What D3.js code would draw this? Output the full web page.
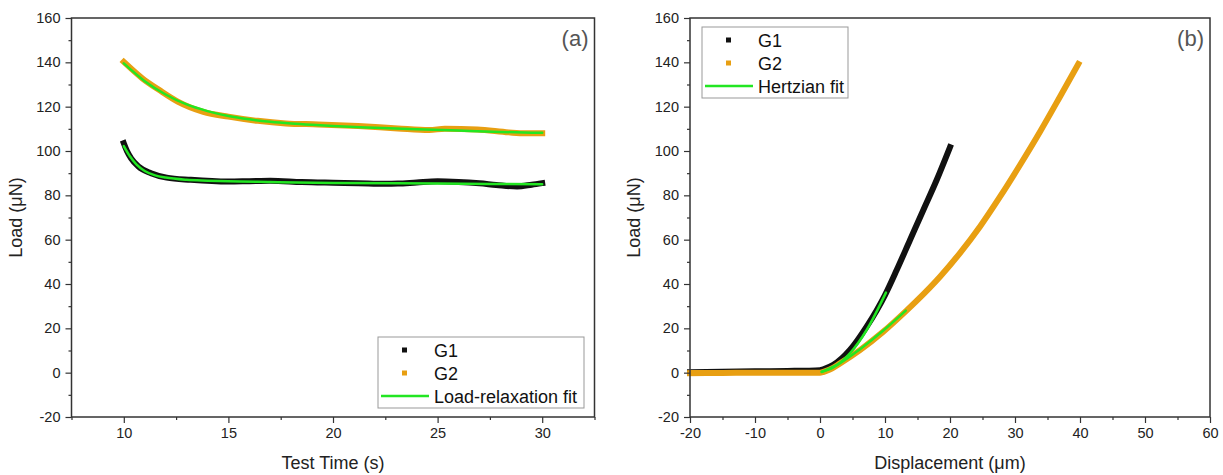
<!DOCTYPE html>
<html>
<head>
<meta charset="utf-8">
<script src="https://cdn.jsdelivr.net/npm/d3@7"></script>
<style>
  body { margin: 0; background: #fff; }
  text { font-family: "Liberation Sans", Arial, sans-serif; }
</style>
</head>
<body>
<svg id="chart" width="1223" height="475"></svg>
<script>
// ---- shared load axis ----
const loadDomain = [-20, 160];
const loadMajor = [-20, 0, 20, 40, 60, 80, 100, 120, 140, 160];
const loadMinor = [-10, 10, 30, 50, 70, 90, 110, 130, 150];

// ---- (a) load relaxation ----
const timeDomain = [7.5, 32.5];
const timeMajor = [10, 15, 20, 25, 30];
const timeMinor = [7.5, 12.5, 17.5, 22.5, 27.5, 32.5];

const g1RelaxTime = [10, 10.15, 10.35, 10.7, 11.3, 12.05, 13.2, 15, 16, 17, 18.5, 20, 21.2, 22.5, 23.1, 24, 25, 26, 27, 27.8, 28.8, 29.5, 30];
const g1RelaxLoad = [103.5, 100, 96.7, 93, 90, 88, 87, 86.2, 86.4, 86.6, 86, 85.7, 85.5, 85.2, 85.3, 85.8, 86.3, 86, 85.4, 84.7, 84, 84.8, 85.5];
const g2RelaxTime = [10, 10.9, 11.7, 12.6, 13.8, 15, 16.4, 17.75, 19.3, 21.2, 23.1, 24.6, 25.35, 26.9, 28.4, 29.2, 30];
const g2RelaxLoad = [140.2, 132.7, 127.5, 122.2, 117.7, 115.5, 113.6, 112.45, 112, 111.25, 110.2, 109.5, 110, 109.7, 108.4, 108, 108];

const g1RelaxFitTime = [10, 10.3, 10.6, 11, 11.5, 12, 13, 14, 15, 17, 20, 25, 30];
const g1RelaxFitLoad = [102.2, 97.5, 94, 91, 89, 88, 87, 86.6, 86.3, 86, 85.6, 85.3, 85];
const g2RelaxFitTime = [10, 11, 12, 13, 14, 15, 16, 17, 18, 19, 20, 22, 24, 26, 28, 30];
const g2RelaxFitLoad = [139.5, 131.5, 125.5, 121, 118, 115.8, 114.3, 113.2, 112.4, 111.8, 111.3, 110.5, 109.8, 109.2, 108.6, 108.2];

// ---- (b) load vs displacement ----
const dispDomain = [-20, 60];
const dispMajor = [-20, -10, 0, 10, 20, 30, 40, 50, 60];
const dispMinor = [-15, -5, 5, 15, 25, 35, 45, 55];

const g1Disp = [-20, -15, -10, -5, -2, 0, 0.5, 2.05, 4.6, 7.18, 10, 11.8, 13.85, 15.9, 17.95, 20];
const g1Load = [0.2, 0.4, 0.6, 0.8, 0.9, 1.1, 1.5, 3.5, 10.2, 20.75, 35, 46.3, 59.85, 73.4, 86.9, 101.7];
const g2Disp = [-20, -15, -10, -5, 0, 0.5, 1.5, 3.08, 6.15, 9.74, 13.3, 14.9, 18.46, 21.5, 24.6, 27.7, 30.77, 33.85, 36.92, 39.74];
const g2Load = [-0.2, -0.1, 0, 0, 0, 0.3, 1.4, 4.2, 10.2, 18.5, 28, 32.5, 43.3, 53.85, 65.85, 79.4, 93.7, 108.7, 124.5, 139.25];

const g1HertzDisp = [0.26, 2.05, 4.6, 7.18, 10.15];
const g1HertzLoad = [0.45, 2.4, 8.7, 19.25, 36.1];
const g2HertzDisp = [0.26, 3.08, 6.15, 9.74, 13.2];
const g2HertzLoad = [0.3, 4.3, 10.6, 19, 28];

const seriesNames = ["G1", "G2"];
const colors = { G1: "#111111", G2: "#e89f12", fit: "#22e622" };

const zip = (xs, ys) => xs.map((x, i) => [x, ys[i]]);

const svg = d3.select("#chart");
const plotTop = 18, plotBottom = 417;

function panel(cfg) {
  const x = d3.scaleLinear().domain(cfg.xDomain).range([cfg.left, cfg.right]);
  const y = d3.scaleLinear().domain(loadDomain).range([plotBottom, plotTop]);
  const g = svg.append("g");

  const line = d3.line().x(d => x(d[0])).y(d => y(d[1])).curve(d3.curveMonotoneX);

  // measured data, drawn as a dense band of markers
  cfg.data.forEach(s => {
    g.append("path")
      .attr("d", line(s.pts))
      .attr("fill", "none")
      .attr("stroke", colors[s.name])
      .attr("stroke-width", 6)
      .attr("stroke-linejoin", "round")
      .attr("stroke-linecap", "square");
  });
  // fitted curves
  cfg.fits.forEach(pts => {
    g.append("path")
      .attr("d", line(pts))
      .attr("fill", "none")
      .attr("stroke", colors.fit)
      .attr("stroke-width", 2.5)
      .attr("stroke-linecap", "round");
  });

  // axes (plain hyphen for negatives)
  const fmt = d => String(d);
  const styleAxis = sel => {
    sel.select(".domain").remove();
    sel.selectAll("line").attr("stroke", "#333").attr("stroke-width", 1.2);
    sel.selectAll("text").attr("fill", "#222").attr("font-size", 14.5)
      .attr("font-family", "'Liberation Sans', Arial, sans-serif");
  };
  g.append("g").attr("transform", `translate(0,${plotBottom})`)
    .call(d3.axisBottom(x).tickValues(cfg.xMinor).tickSize(3).tickFormat(""))
    .call(styleAxis);
  g.append("g").attr("transform", `translate(0,${plotBottom})`)
    .call(d3.axisBottom(x).tickValues(cfg.xMajor).tickSize(6).tickPadding(5).tickFormat(fmt))
    .call(styleAxis);
  g.append("g").attr("transform", `translate(${cfg.left},0)`)
    .call(d3.axisLeft(y).tickValues(loadMinor).tickSize(3).tickFormat(""))
    .call(styleAxis);
  g.append("g").attr("transform", `translate(${cfg.left},0)`)
    .call(d3.axisLeft(y).tickValues(loadMajor).tickSize(6).tickPadding(5).tickFormat(fmt))
    .call(styleAxis);

  // frame
  g.append("rect")
    .attr("x", cfg.left).attr("y", plotTop)
    .attr("width", cfg.right - cfg.left).attr("height", plotBottom - plotTop)
    .attr("fill", "none").attr("stroke", "#333").attr("stroke-width", 1.5);

  // titles
  g.append("text")
    .attr("x", (cfg.left + cfg.right) / 2).attr("y", 469)
    .attr("text-anchor", "middle").attr("font-size", 18).attr("fill", "#222")
    .text(cfg.xTitle);
  g.append("text")
    .attr("transform", `translate(${cfg.left - 50},${(plotTop + plotBottom) / 2}) rotate(-90)`)
    .attr("text-anchor", "middle").attr("font-size", 18).attr("fill", "#222")
    .text("Load (\u03bcN)");
  g.append("text")
    .attr("x", cfg.right - 6).attr("y", 46)
    .attr("text-anchor", "end").attr("font-size", 22).attr("fill", "#555")
    .text(cfg.tag);

  // legend
  const L = cfg.legend;
  const lg = g.append("g").attr("transform", `translate(${L.x},${L.y})`);
  lg.append("rect").attr("width", L.w).attr("height", 71)
    .attr("fill", "#fff").attr("stroke", "#999").attr("stroke-width", 1);
  seriesNames.forEach((n, i) => {
    const cy = 13 + i * 23;
    lg.append("rect").attr("x", 24).attr("y", cy - 2.5).attr("width", 5).attr("height", 5)
      .attr("fill", colors[n]);
    lg.append("text").attr("x", 56).attr("y", cy + 6.5).attr("font-size", 18).attr("fill", "#111").text(n);
  });
  lg.append("line").attr("x1", 3).attr("x2", 51).attr("y1", 59).attr("y2", 59)
    .attr("stroke", colors.fit).attr("stroke-width", 2.5);
  lg.append("text").attr("x", 56).attr("y", 65.5).attr("font-size", 18).attr("fill", "#111").text(L.fitLabel);
}

panel({
  left: 71.5, right: 594.5,
  xDomain: timeDomain, xMajor: timeMajor, xMinor: timeMinor,
  xTitle: "Test Time (s)", tag: "(a)",
  data: [{ name: "G1", pts: zip(g1RelaxTime, g1RelaxLoad) }, { name: "G2", pts: zip(g2RelaxTime, g2RelaxLoad) }],
  fits: [zip(g1RelaxFitTime, g1RelaxFitLoad), zip(g2RelaxFitTime, g2RelaxFitLoad)],
  legend: { x: 378, y: 337, w: 206, fitLabel: "Load-relaxation fit" }
});

panel({
  left: 690, right: 1210,
  xDomain: dispDomain, xMajor: dispMajor, xMinor: dispMinor,
  xTitle: "Displacement (\u03bcm)", tag: "(b)",
  data: [{ name: "G1", pts: zip(g1Disp, g1Load) }, { name: "G2", pts: zip(g2Disp, g2Load) }],
  fits: [zip(g1HertzDisp, g1HertzLoad), zip(g2HertzDisp, g2HertzLoad)],
  legend: { x: 702, y: 27, w: 146, fitLabel: "Hertzian fit" }
});
</script>
</body>
</html>
